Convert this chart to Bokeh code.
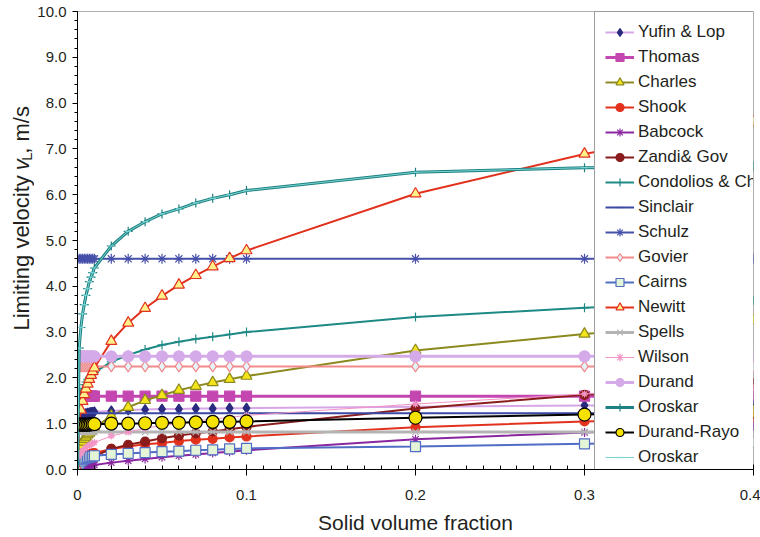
from bokeh.plotting import figure
from bokeh.layouts import row
from bokeh.models import (Legend, LegendItem, FixedTicker, NumeralTickFormatter, Range1d)
from bokeh.core.properties import value
from bokeh.embed import file_html
from bokeh.resources import INLINE

# ---------------- data ----------------
phi = [0, 0.001, 0.002, 0.003, 0.004, 0.005, 0.006, 0.007, 0.008, 0.009,
       0.01, 0.02, 0.03, 0.04, 0.05, 0.06, 0.07, 0.08, 0.09, 0.1, 0.2, 0.3, 0.4]

yufin = [1.10, 1.15, 1.18, 1.20, 1.21, 1.22, 1.23, 1.24, 1.25, 1.25,
         1.26, 1.28, 1.30, 1.31, 1.32, 1.32, 1.33, 1.33, 1.34, 1.34, 1.37, 1.40, 1.42]
thomas = [1.60] * 23
charles = [0.0, 0.41, 0.52, 0.60, 0.66, 0.71, 0.76, 0.80, 0.84, 0.88,
           0.91, 1.17, 1.36, 1.51, 1.62, 1.73, 1.82, 1.90, 1.97, 2.04, 2.60, 2.96, 3.25]
shook = [0.0, 0.18, 0.22, 0.25, 0.27, 0.29, 0.31, 0.32, 0.34, 0.35,
         0.36, 0.45, 0.50, 0.55, 0.58, 0.62, 0.65, 0.67, 0.70, 0.72, 0.92, 1.05, 1.14]
babcock = [0.0, 0.02, 0.03, 0.04, 0.05, 0.06, 0.07, 0.08, 0.085, 0.09,
           0.10, 0.15, 0.19, 0.23, 0.27, 0.30, 0.33, 0.36, 0.39, 0.42, 0.66, 0.81, 0.94]
zandi = [0.0, 0.09, 0.13, 0.16, 0.19, 0.21, 0.23, 0.25, 0.26, 0.28,
         0.29, 0.45, 0.54, 0.61, 0.68, 0.74, 0.79, 0.83, 0.88, 0.93, 1.33, 1.63, 1.88]
condolios = [0.0, 1.50, 1.67, 1.77, 1.85, 1.91, 1.97, 2.01, 2.05, 2.09,
             2.12, 2.35, 2.50, 2.62, 2.72, 2.79, 2.85, 2.90, 2.95, 3.00, 3.33, 3.53, 3.69]
sinclair = [1.23] * 23
schulz = [4.60] * 23
govier = [2.25] * 23
cairns = [0.0, 0.14, 0.18, 0.21, 0.23, 0.25, 0.26, 0.27, 0.28, 0.29,
          0.30, 0.33, 0.35, 0.37, 0.39, 0.40, 0.42, 0.43, 0.45, 0.46, 0.50, 0.56, 0.60]
newitt = [0.0, 1.03, 1.30, 1.49, 1.64, 1.76, 1.87, 1.97, 2.06, 2.14,
          2.22, 2.80, 3.20, 3.52, 3.79, 4.03, 4.24, 4.43, 4.61, 4.78, 6.02, 6.89, 7.59]
spells = [0.82] * 23
wilson = [0.0, 0.30, 0.36, 0.41, 0.45, 0.48, 0.51, 0.53, 0.55, 0.57,
          0.59, 0.73, 0.82, 0.90, 0.96, 1.01, 1.06, 1.10, 1.14, 1.18, 1.43, 1.65, 1.79]
durand = [2.47] * 23
oroskar = [0.0, 2.65, 3.10, 3.40, 3.60, 3.80, 3.95, 4.10, 4.20, 4.30,
           4.40, 4.88, 5.20, 5.41, 5.58, 5.69, 5.82, 5.92, 6.00, 6.09, 6.49, 6.59, 6.62]
durand_rayo = [0.98, 0.98, 0.98, 0.98, 0.98, 0.98, 0.98, 0.98, 0.99, 0.99,
               0.99, 1.00, 1.00, 1.01, 1.02, 1.02, 1.03, 1.04, 1.04, 1.05, 1.13, 1.20, 1.27]

x_ticks = [0, 0.1, 0.2, 0.3, 0.4]
y_ticks = [0, 1, 2, 3, 4, 5, 6, 7, 8, 9, 10]

# name, values, line colour, line width, marker, size, fill, edge
series = [
    ("Yufin & Lop", yufin, "#d7a6e6", 2, "diamond", 10, "#2a2a7e", "#2a2a7e"),
    ("Thomas", thomas, "#c446b0", 3, "square", 10, "#c446b0", "#c446b0"),
    ("Charles", charles, "#8c8a1e", 2, "triangle", 11, "#f4e41c", "#8c8a1e"),
    ("Shook", shook, "#e2321e", 2, "circle", 9, "#e2321e", "#e2321e"),
    ("Babcock", babcock, "#8a26a0", 2, "asterisk", 9, "#8a26a0", "#8a26a0"),
    ("Zandi& Gov", zandi, "#8a1c1c", 2, "circle", 9, "#8a1c1c", "#8a1c1c"),
    ("Condolios & Ch", condolios, "#1e8a86", 2, "cross", 9, "#1e8a86", "#1e8a86"),
    ("Sinclair", sinclair, "#3c48a4", 2, "dash", 7, "#3c48a4", "#3c48a4"),
    ("Schulz", schulz, "#4650aa", 2, "asterisk", 10, "#4650aa", "#4650aa"),
    ("Govier", govier, "#f28a8a", 2, "diamond", 11, "#e4f4fa", "#f28a8a"),
    ("Cairns", cairns, "#506cc4", 2, "square", 10, "#e4f4d6", "#506cc4"),
    ("Newitt", newitt, "#e2321e", 2, "triangle", 11, "#fff08a", "#e2321e"),
    ("Spells", spells, "#b4b4b4", 3, "x", 9, "#b4b4b4", "#b4b4b4"),
    ("Wilson", wilson, "#f294c6", 1, "asterisk", 7, "#f294c6", "#f294c6"),
    ("Durand", durand, "#d4aae8", 3, "circle", 11, "#d4aae8", "#d4aae8"),
    ("Oroskar", oroskar, "#1e8080", 3, "cross", 9, "#1e8080", "#1e8080"),
    ("Durand-Rayo", durand_rayo, "#000000", 2, "circle", 13, "#f6e200", "#000000"),
    ("Oroskar", oroskar, "#7ad4d4", 1, "dash", 6, "#7ad4d4", "#7ad4d4"),
]

FONT = "Liberation Sans"
TXT = "#231f20"
TITLE_W = 34

p = figure(width=760 - TITLE_W, height=537, output_backend="svg", toolbar_location=None,
           x_range=Range1d(0, 0.4), y_range=Range1d(0, 10),
           min_border_left=76 - TITLE_W, min_border_right=7,
           min_border_top=11, min_border_bottom=68)
p.xgrid.visible = False
p.ygrid.visible = False
p.outline_line_color = "#b0b0b0"
p.outline_line_width = 1
p.background_fill_color = "white"
p.border_fill_color = "white"

items = []
for name, vals, lc, lw, mk, sz, fc, ec in series:
    r1 = p.line(phi, vals, line_color=lc, line_width=lw)
    r2 = p.scatter(phi, vals, marker=mk, size=sz, fill_color=fc, line_color=ec,
                   line_width=1.2)
    items.append(LegendItem(label=name, renderers=[r1, r2]))

# axes
p.xaxis.ticker = FixedTicker(ticks=x_ticks, minor_ticks=[i / 100 for i in range(0, 41)])
p.yaxis.ticker = FixedTicker(ticks=y_ticks, minor_ticks=[i / 5 for i in range(0, 51)])
p.xaxis.formatter = NumeralTickFormatter(format="0.[0]")
p.yaxis.formatter = NumeralTickFormatter(format="0.0")
for ax in (p.xaxis, p.yaxis):
    ax.axis_line_color = "black"
    ax.major_tick_line_color = "black"
    ax.minor_tick_line_color = "black"
    ax.major_label_text_font = FONT
    ax.major_label_text_font_size = "15px"
    ax.major_label_text_color = TXT
p.xaxis.major_tick_in = 5
p.xaxis.major_tick_out = 6
p.xaxis.minor_tick_in = 4
p.xaxis.minor_tick_out = 0
p.xaxis.major_label_standoff = 14
p.yaxis.major_tick_in = 0
p.yaxis.major_tick_out = 5
p.yaxis.minor_tick_in = 0
p.yaxis.minor_tick_out = 3
p.yaxis.major_label_standoff = 6

p.xaxis.axis_label = "Solid volume fraction"
p.xaxis.axis_label_text_font = FONT
p.xaxis.axis_label_text_font_size = "21px"
p.xaxis.axis_label_text_font_style = "normal"
p.xaxis.axis_label_text_color = TXT
p.xaxis.axis_label_standoff = 8

legend = Legend(items=items, location=(517, -8.5), orientation="vertical",
                label_text_font=FONT, label_text_font_size="17px", label_text_color=TXT,
                glyph_width=29, glyph_height=20, label_height=20, spacing=5,
                padding=10, margin=0, label_standoff=4,
                border_line_color="#3a3a3a", border_line_width=1,
                background_fill_color="white", background_fill_alpha=1)
p.add_layout(legend, "center")

# ---- y axis title panel (italic v with subscript L) ----
t = figure(width=TITLE_W, height=537, output_backend="svg", toolbar_location=None,
           x_range=Range1d(0, TITLE_W), y_range=Range1d(0, 537),
           x_axis_location=None, y_axis_location=None, min_border=0)
t.xgrid.visible = False
t.ygrid.visible = False
t.outline_line_color = None
t.background_fill_color = "white"
t.border_fill_color = "white"
# (text, x centre px, y px from bottom, size, style, align)
pieces = [
    ("Limiting velocity", 21, 345.0, "22px", "normal", "right"),
    ("v", 21, 351.0, "22px", "italic", "left"),
    ("L", 26, 362.0, "15px", "normal", "left"),
    (", m/s", 21, 370.3, "22px", "normal", "left"),
]
for txt, xx, yy, fs, st, al in pieces:
    t.text(x=[xx], y=[yy], text=[txt], angle=1.5707963, text_align=al,
           text_baseline="middle", text_font=value(FONT),
           text_font_size=value(fs), text_font_style=value(st), text_color=TXT)

layout = row(t, p)

with open("out.html", "w") as f:
    f.write(file_html(layout, INLINE))
